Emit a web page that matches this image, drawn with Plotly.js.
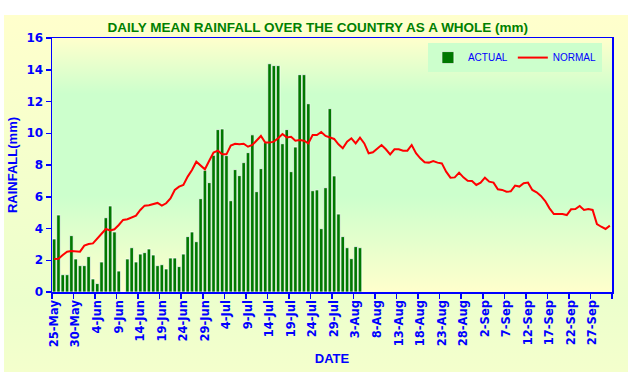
<!DOCTYPE html>
<html><head><meta charset="utf-8">
<script src="https://cdn.plot.ly/plotly-3.0.1.min.js"></script>
<style>
html,body{margin:0;padding:0;background:#ffffff;}
#frame{position:absolute;left:4px;top:15px;width:624px;height:357px;background:linear-gradient(to bottom,#ffffcc 0%,#f4ffcc 45%,#ecffcc 80%,#f4ffcc 100%);}
#plotbg{position:absolute;left:48px;top:23px;width:560px;height:254px;background:linear-gradient(to bottom,#ffffcc 0%,#ccffcc 22%,#ccffcc 62%,#ffffcc 100%);}
#chart{position:absolute;left:0;top:0;width:624px;height:357px;}
</style></head>
<body>
<div id="frame"><div id="plotbg"></div><div id="chart"></div></div>
<script>
// Categories: daily dates from 25-May to 1-Oct
const START_MONTH = 4;   // May (0-based)
const START_DAY = 25;
const NUM_DAYS = 130;
const monthNames = ['Jan','Feb','Mar','Apr','May','Jun','Jul','Aug','Sep','Oct','Nov','Dec'];
const dates = [];
for (let k = 0; k < NUM_DAYS; k++) {
  const d = new Date(Date.UTC(2001, START_MONTH, START_DAY + k));
  dates.push(d.getUTCDate() + '-' + monthNames[d.getUTCMonth()]);
}

// Actual daily mean rainfall (mm), 25-May .. 4-Aug
const actual = [
  3.34, 4.85, 1.09, 1.09, 3.55, 2.08, 1.66, 1.66, 2.23, 0.82,
  0.53, 1.89, 4.68, 5.42, 3.78, 1.32, 0.00, 2.08, 2.79, 1.89,
  2.39, 2.48, 2.71, 2.33, 1.66, 1.72, 1.45, 2.14, 2.14, 1.60,
  2.39, 3.49, 3.78, 3.17, 5.88, 7.66, 6.89, 8.61, 10.23, 10.27,
  8.59, 5.75, 7.71, 7.33, 8.15, 8.78, 9.90, 6.32, 7.77, 9.41,
  14.38, 14.26, 14.26, 9.34, 10.23, 7.58, 9.13, 13.69, 13.69, 11.86,
  6.38, 6.43, 3.99, 6.57, 11.55, 7.31, 4.91, 3.49, 2.79, 2.10,
  2.86, 2.79
];

// Normal daily rainfall (mm), 25-May .. 1-Oct
const normal = [
  2.08, 2.10, 2.33, 2.54, 2.58, 2.58, 2.54, 2.92, 3.02, 3.06,
  3.38, 3.65, 3.97, 3.88, 3.95, 4.22, 4.54, 4.58, 4.70, 4.81,
  5.17, 5.44, 5.46, 5.52, 5.61, 5.44, 5.59, 5.90, 6.43, 6.64,
  6.74, 7.27, 7.69, 8.21, 7.94, 7.73, 8.27, 8.78, 8.90, 8.67,
  8.67, 9.22, 9.34, 9.30, 9.34, 9.15, 9.26, 9.57, 9.83, 9.41,
  9.41, 9.47, 9.68, 9.95, 9.74, 9.78, 9.53, 9.57, 9.53, 9.36,
  9.89, 9.89, 10.08, 9.83, 9.72, 9.64, 9.30, 9.05, 9.47, 9.68,
  9.36, 9.72, 9.36, 8.74, 8.80, 9.05, 9.26, 8.99, 8.67, 8.99,
  8.99, 8.90, 8.90, 9.26, 8.74, 8.42, 8.17, 8.15, 8.25, 8.15,
  8.10, 7.58, 7.20, 7.22, 7.52, 7.22, 7.01, 6.99, 6.74, 6.89,
  7.20, 6.95, 6.89, 6.47, 6.43, 6.32, 6.34, 6.70, 6.64, 6.85,
  6.89, 6.43, 6.28, 6.05, 5.73, 5.27, 4.91, 4.91, 4.91, 4.85,
  5.21, 5.23, 5.42, 5.17, 5.23, 5.17, 4.28, 4.11, 3.97, 4.18
];

const BLUE = '#0000ff';
const traces = [
  {
    type: 'bar', name: 'ACTUAL',
    x: dates.slice(0, actual.length), y: actual,
    marker: {color: '#007800', line: {color: '#ffffff', width: 0.7}},
    hoverinfo: 'x+y'
  },
  {
    type: 'scatter', mode: 'lines', name: 'NORMAL',
    x: dates, y: normal,
    line: {color: '#ff0000', width: 2}
  }
];

const layout = {
  width: 624, height: 357,
  margin: {l: 48, r: 16, t: 23, b: 80},
  paper_bgcolor: 'rgba(0,0,0,0)',
  plot_bgcolor: 'rgba(0,0,0,0)',
  bargap: 0.18,
  showlegend: true,
  title: {
    text: 'DAILY MEAN RAINFALL OVER THE COUNTRY AS A WHOLE (mm)',
    font: {family: 'Liberation Sans, Arial, sans-serif', size: 13.5, color: '#008000', weight: 'bold'},
    x: 0.503, xref: 'container', xanchor: 'center',
    y: 0.966, yref: 'container', yanchor: 'middle'
  },
  legend: {
    orientation: 'h', x: 0.982, xanchor: 'right', y: 0.98, yanchor: 'top',
    bgcolor: '#ccffcc', borderwidth: 0,
    font: {family: 'Liberation Sans, Arial, sans-serif', size: 10, color: BLUE},
    itemwidth: 30, tracegroupgap: 0
  },
  xaxis: {
    type: 'category', categoryorder: 'array', categoryarray: dates,
    range: [-0.5, NUM_DAYS - 0.5],
    tickmode: 'linear', tick0: 0, dtick: 5, tickson: 'boundaries',
    ticks: 'outside', ticklen: 5, tickcolor: BLUE, tickwidth: 1.5,
    tickangle: -90, ticklabelstandoff: 2,
    tickfont: {family: 'DejaVu Sans, sans-serif', size: 11.5, color: BLUE, weight: 'bold'},
    showline: true, linecolor: BLUE, linewidth: 1.5, mirror: true,
    showgrid: false, zeroline: false, fixedrange: true,
    title: {text: 'DATE', font: {family: 'Liberation Sans, Arial, sans-serif', size: 13, color: BLUE, weight: 'bold'}, standoff: 7}
  },
  yaxis: {
    range: [0, 16], tickmode: 'linear', tick0: 0, dtick: 2,
    ticks: 'outside', ticklen: 5, tickcolor: BLUE, tickwidth: 1.5,
    tickfont: {family: 'DejaVu Sans, sans-serif', size: 12, color: BLUE, weight: 'bold'},
    showline: true, linecolor: BLUE, linewidth: 1.5, mirror: true,
    showgrid: false, zeroline: false, fixedrange: true,
    title: {text: 'RAINFALL(mm)', font: {family: 'Liberation Sans, Arial, sans-serif', size: 13, color: BLUE, weight: 'bold'}, standoff: 6}
  }
};

Plotly.newPlot('chart', traces, layout, {displayModeBar: false, staticPlot: true});
</script>
</body></html>
